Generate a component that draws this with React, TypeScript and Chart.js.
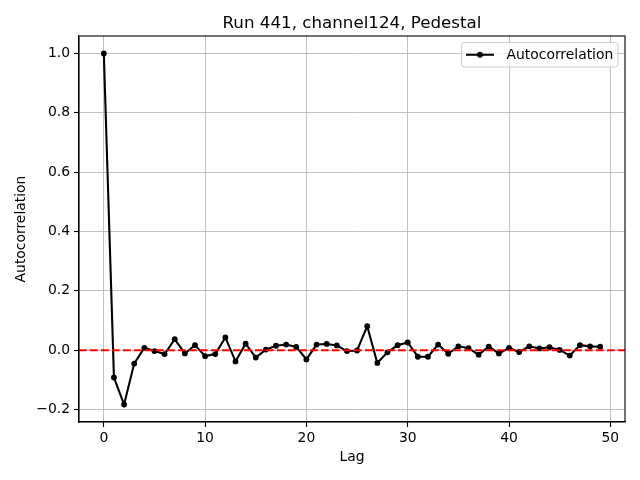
import React, { useEffect, useRef } from "react";
import { Chart, registerables } from "chart.js";

Chart.register(...registerables);

const TITLE = "Run 441, channel124, Pedestal";
const X_LABEL = "Lag";
const Y_LABEL = "Autocorrelation";
const LEGEND_LABEL = "Autocorrelation";

const lags = [
  0, 1, 2, 3, 4, 5, 6, 7, 8, 9,
  10, 11, 12, 13, 14, 15, 16, 17, 18, 19,
  20, 21, 22, 23, 24, 25, 26, 27, 28, 29,
  30, 31, 32, 33, 34, 35, 36, 37, 38, 39,
  40, 41, 42, 43, 44, 45, 46, 47, 48, 49,
];

const autocorr = [
  1.0, -0.092, -0.183, -0.045, 0.008, -0.003, -0.013, 0.037, -0.011, 0.017,
  -0.02, -0.013, 0.043, -0.038, 0.022, -0.025, 0.002, 0.015, 0.019, 0.011,
  -0.031, 0.019, 0.021, 0.016, -0.003, -0.001, 0.081, -0.043, -0.007, 0.017,
  0.026, -0.022, -0.022, 0.019, -0.012, 0.013, 0.007, -0.015, 0.012, -0.011,
  0.008, -0.006, 0.013, 0.006, 0.01, 0.001, -0.018, 0.017, 0.013, 0.012,
];

const xTicks = [0, 10, 20, 30, 40, 50];
const yTicks = [-0.2, 0.0, 0.2, 0.4, 0.6, 0.8, 1.0];
const xRange = [-2.45, 51.45];
const yRange = [-0.242, 1.059];
const zeroLine = 0;

const FONT = '"DejaVu Sans", sans-serif';

const overlayPlugin = {
  id: "overlay",
  afterDraw(chart: any) {
    const { ctx, chartArea: a } = chart;
    ctx.save();
    // spines
    ctx.strokeStyle = "#000";
    ctx.lineWidth = 1.1;
    ctx.strokeRect(a.left, a.top, a.right - a.left, a.bottom - a.top);
    // title
    ctx.fillStyle = "#000";
    ctx.font = `16.7px ${FONT}`;
    ctx.textAlign = "center";
    ctx.textBaseline = "alphabetic";
    ctx.fillText(TITLE, (a.left + a.right) / 2, a.top - 8.3);
    // legend
    const bw = 156.5;
    const bh = 24.5;
    const bx = a.right - 7 - bw;
    const by = a.top + 6.5;
    ctx.beginPath();
    (ctx as any).roundRect(bx, by, bw, bh, 3);
    ctx.fillStyle = "rgba(255,255,255,0.8)";
    ctx.fill();
    ctx.strokeStyle = "#cccccc";
    ctx.lineWidth = 1;
    ctx.stroke();
    const cy = by + bh / 2;
    ctx.beginPath();
    ctx.moveTo(bx + 4.5, cy);
    ctx.lineTo(bx + 32.5, cy);
    ctx.strokeStyle = "#000";
    ctx.lineWidth = 2.08;
    ctx.stroke();
    ctx.beginPath();
    ctx.arc(bx + 18.5, cy, 2.9, 0, Math.PI * 2);
    ctx.fillStyle = "#000";
    ctx.fill();
    ctx.font = `13.9px ${FONT}`;
    ctx.textAlign = "left";
    ctx.textBaseline = "middle";
    ctx.fillText(LEGEND_LABEL, bx + 45, cy + 0.5);
    ctx.restore();
  },
};

const fmt = (v: number) => v.toFixed(1).replace("-", "\u2212");

export default function App() {
  const ref = useRef<HTMLCanvasElement | null>(null);

  useEffect(() => {
    if (!ref.current) return;
    const chart = new Chart(ref.current, {
      type: "line",
      data: {
        datasets: [
          {
            label: "zero",
            data: [
              { x: xRange[0], y: zeroLine },
              { x: xRange[1], y: zeroLine },
            ],
            borderColor: "#ff0000",
            borderWidth: 2.08,
            borderDash: [7.7, 3.3],
            pointRadius: 0,
            order: 0,
          },
          {
            label: LEGEND_LABEL,
            data: lags.map((l, i) => ({ x: l, y: autocorr[i] })),
            borderColor: "#000",
            borderWidth: 2.08,
            pointRadius: 2.9,
            pointBackgroundColor: "#000",
            pointBorderWidth: 0,
            tension: 0,
            order: 1,
          },
        ],
      },
      options: {
        animation: false,
        responsive: false,
        layout: { padding: { top: 36, right: 15, left: 0, bottom: 0 } },
        plugins: {
          legend: { display: false },
          title: { display: false },
          tooltip: { enabled: false },
        },
        scales: {
          x: {
            type: "linear",
            min: xRange[0],
            max: xRange[1],
            afterBuildTicks: (s: any) => {
              s.ticks = xTicks.map((v) => ({ value: v }));
            },
            afterFit: (s: any) => {
              s.height = 58;
            },
            ticks: {
              color: "#000",
              font: { family: FONT, size: 13.9 },
              padding: 3,
              maxRotation: 0,
              callback: (v: any) => String(v),
            },
            grid: {
              color: "#b0b0b0",
              lineWidth: 0.8,
              tickColor: "#000",
              tickLength: 5,
              tickWidth: 1.1,
            },
            border: { display: true, color: "#000", width: 1.1 },
            title: {
              display: true,
              text: X_LABEL,
              color: "#000",
              font: { family: FONT, size: 13.9 },
              padding: 14.5,
            },
          },
          y: {
            type: "linear",
            min: yRange[0],
            max: yRange[1],
            afterBuildTicks: (s: any) => {
              s.ticks = yTicks.map((v) => ({ value: v }));
            },
            afterFit: (s: any) => {
              s.width = 79;
            },
            ticks: {
              color: "#000",
              font: { family: FONT, size: 13.9 },
              padding: 4,
              callback: (v: any) => fmt(Number(v)),
            },
            grid: {
              color: "#b0b0b0",
              lineWidth: 0.8,
              tickColor: "#000",
              tickLength: 5,
              tickWidth: 1.1,
            },
            border: { display: true, color: "#000", width: 1.1 },
            title: {
              display: true,
              text: Y_LABEL,
              color: "#000",
              font: { family: FONT, size: 13.9 },
              padding: 12.6,
            },
          },
        },
      } as any,
      plugins: [overlayPlugin],
    });
    return () => chart.destroy();
  }, []);

  return (
    <div style={{ position: "fixed", left: 0, top: 0, width: 640, height: 480, background: "#fff" }}>
      <canvas ref={ref} width={640} height={480} style={{ display: "block", width: 640, height: 480 }} />
    </div>
  );
}
